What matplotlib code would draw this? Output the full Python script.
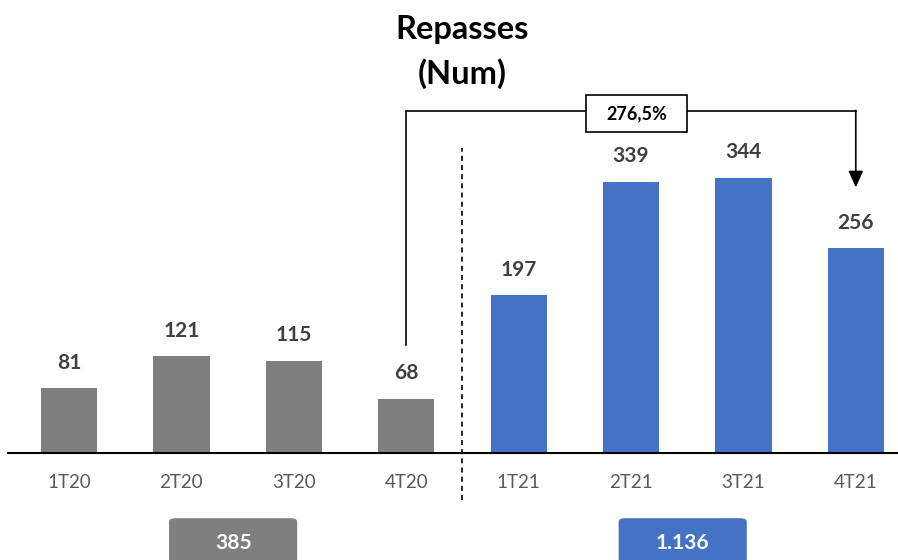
import numpy as np
import matplotlib
matplotlib.use("Agg")
import matplotlib.pyplot as plt
from matplotlib.patches import Rectangle, FancyBboxPatch

# ── Data ──────────────────────────────────────────────────────────────────────
quarters = ["1T20", "2T20", "3T20", "4T20", "1T21", "2T21", "3T21", "4T21"]
repasses = [81, 121, 115, 68, 197, 339, 344, 256]
years = ["2020", "2021"]

GRAY = "#7f7f7f"
BLUE = "#4472c4"
LABEL = "#404040"
TICK = "#595959"

plt.rcParams["font.family"] = ["Lato", "DejaVu Sans"]

vals = np.array(repasses)
x = np.arange(len(quarters))
n_half = len(quarters) // 2
colors = [GRAY] * n_half + [BLUE] * n_half

totals = [vals[:n_half].sum(), vals[n_half:].sum()]
growth = (vals[-1] / vals[n_half - 1] - 1) * 100


def fmt_thousands(v):
    return f"{int(v):,}".replace(",", ".")


fig = plt.figure(figsize=(8.98, 5.6), dpi=100)
ax = fig.add_axes([0, 0, 1, 1])
ax.axis("off")
# pixel-like mapping: bar pitch 112.4 px, 0.8 px per unit, baseline 453 px
ax.set_xlim(-69 / 112.4, (898 - 69) / 112.4)
ax.set_ylim(-107 / 0.8, 453 / 0.8)

ax.bar(x, vals, width=0.5, color=colors, zorder=2)
ax.plot([-0.54, 7.4], [0, 0], color="black", lw=1.5, zorder=3)

for xi, v in zip(x, vals):
    ax.text(xi, v + 32, str(v), ha="center", va="center", fontsize=15,
            fontweight="bold", color=LABEL)
for xi, q in zip(x, quarters):
    ax.text(xi, -37, q, ha="center", va="center", fontsize=13.5, color=TICK)

# divider between years
ax.plot([n_half - 0.5] * 2, [-59, 381], color="black", lw=1.2,
        ls=(0, (3, 2.5)), zorder=3)

# title
ax.text(3.5, 530, "Repasses", ha="center", va="center", fontsize=23.5,
        fontweight="bold", color="black")
ax.text(3.5, 474, "(Num)", ha="center", va="center", fontsize=23.5,
        fontweight="bold", color="black")

# growth bracket 4T20 -> 4T21
top = 427.5
x0, x1 = n_half - 1, len(quarters) - 1
ax.plot([x0, x0, x1], [vals[x0] + 67, top, top], color="black", lw=1.2,
        zorder=3, solid_joinstyle="miter")
ax.annotate("", xy=(x1, vals[x1] + 76), xytext=(x1, top + 0.8),
            arrowprops=dict(arrowstyle="-|>,head_length=1.0,head_width=0.45",
                            color="black", lw=1.2, shrinkA=0, shrinkB=0),
            zorder=3)
bx0, bx1 = 4.6, 5.5
ax.add_patch(Rectangle((bx0, 401), bx1 - bx0, 46.5, facecolor="white",
                       edgecolor="black", lw=1.2, zorder=4))
ax.text((bx0 + bx1) / 2, 424, f"{growth:.1f}%".replace(".", ","),
        ha="center", va="center", fontsize=13, fontweight="bold",
        color="black", zorder=5)

# yearly totals
for i, (tot, col) in enumerate(zip(totals, [GRAY, BLUE])):
    cx = i * n_half + 1.46
    ax.add_patch(FancyBboxPatch((cx - 0.57 + 0.05, -140), 1.14 - 0.1, 59 - 4,
                                boxstyle="round,pad=0.05,rounding_size=0.06",
                                mutation_aspect=70, facecolor=col,
                                edgecolor="none", zorder=2))
    ax.text(cx, -112, fmt_thousands(tot), ha="center", va="center",
            fontsize=15, fontweight="bold", color="white", zorder=3)

fig.savefig("out.png", dpi=100)
